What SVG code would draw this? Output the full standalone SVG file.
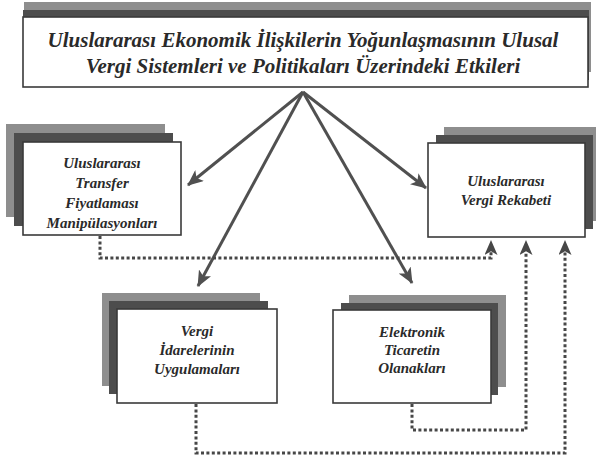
<svg xmlns="http://www.w3.org/2000/svg" width="596" height="465" viewBox="0 0 596 465">
<defs>
<marker id="ah" viewBox="0 0 16 14" refX="15" refY="7" markerWidth="16" markerHeight="14" markerUnits="userSpaceOnUse" orient="auto">
<path d="M0,0 L16,7 L0,14 L4,7 Z" fill="#505050"/>
</marker>
<marker id="ahd" viewBox="0 0 16 14" refX="15" refY="7" markerWidth="15" markerHeight="13" markerUnits="userSpaceOnUse" orient="auto">
<path d="M0,0 L16,7 L0,14 L4,7 Z" fill="#474747"/>
</marker>
</defs>
<rect width="596" height="465" fill="#fff"/>

<g id="title">
<rect fill="#8e8e8e" x="24" y="2" width="567" height="70"/>
<rect fill="#4d4d4d" x="23" y="10" width="566" height="70"/>
<rect fill="#fff" stroke="#3a3a3a" stroke-width="1.6" x="23" y="17" width="565" height="70"/>
<text x="303" y="47" style="font-family:'Liberation Serif',serif;font-size:21px;font-weight:bold;font-style:italic;fill:#2a2a2a;text-anchor:middle">Uluslararası Ekonomik İlişkilerin Yoğunlaşmasının Ulusal</text>
<text x="303" y="73" style="font-family:'Liberation Serif',serif;font-size:21px;font-weight:bold;font-style:italic;fill:#2a2a2a;text-anchor:middle">Vergi Sistemleri ve Politikaları Üzerindeki Etkileri</text>
</g>

<g id="transfer">
<rect fill="#8e8e8e" x="6" y="124" width="159" height="93"/>
<rect fill="#4d4d4d" x="14" y="133" width="159" height="93"/>
<rect fill="#fff" stroke="#3a3a3a" stroke-width="1.6" x="23" y="142" width="158" height="93"/>
<text x="102" y="168" style="font-family:'Liberation Serif',serif;font-size:15px;font-weight:bold;font-style:italic;fill:#2a2a2a;text-anchor:middle">Uluslararası</text>
<text x="102" y="188" style="font-family:'Liberation Serif',serif;font-size:15px;font-weight:bold;font-style:italic;fill:#2a2a2a;text-anchor:middle">Transfer</text>
<text x="102" y="208" style="font-family:'Liberation Serif',serif;font-size:15px;font-weight:bold;font-style:italic;fill:#2a2a2a;text-anchor:middle">Fiyatlaması</text>
<text x="102" y="228" style="font-family:'Liberation Serif',serif;font-size:15px;font-weight:bold;font-style:italic;fill:#2a2a2a;text-anchor:middle">Manipülasyonları</text>
</g>

<g id="rekabet">
<rect fill="#8e8e8e" x="444" y="127" width="157" height="94"/>
<rect fill="#4d4d4d" x="436" y="135" width="157" height="94"/>
<rect fill="#fff" stroke="#3a3a3a" stroke-width="1.6" x="428" y="143" width="157" height="94"/>
<text x="506" y="186" style="font-family:'Liberation Serif',serif;font-size:15px;font-weight:bold;font-style:italic;fill:#2a2a2a;text-anchor:middle">Uluslararası</text>
<text x="506" y="205" style="font-family:'Liberation Serif',serif;font-size:15px;font-weight:bold;font-style:italic;fill:#2a2a2a;text-anchor:middle">Vergi Rekabeti</text>
</g>

<g id="idare">
<rect fill="#8e8e8e" x="102" y="293" width="158" height="93"/>
<rect fill="#4d4d4d" x="109" y="301" width="159" height="93"/>
<rect fill="#fff" stroke="#3a3a3a" stroke-width="1.6" x="117" y="309" width="160" height="94"/>
<text x="197" y="336" style="font-family:'Liberation Serif',serif;font-size:15px;font-weight:bold;font-style:italic;fill:#2a2a2a;text-anchor:middle">Vergi</text>
<text x="197" y="355" style="font-family:'Liberation Serif',serif;font-size:15px;font-weight:bold;font-style:italic;fill:#2a2a2a;text-anchor:middle">İdarelerinin</text>
<text x="197" y="374" style="font-family:'Liberation Serif',serif;font-size:15px;font-weight:bold;font-style:italic;fill:#2a2a2a;text-anchor:middle">Uygulamaları</text>
</g>

<g id="eticaret">
<rect fill="#8e8e8e" x="349" y="295" width="157" height="92"/>
<rect fill="#4d4d4d" x="341" y="303" width="157" height="92"/>
<rect fill="#fff" stroke="#3a3a3a" stroke-width="1.6" x="333" y="310" width="158" height="93"/>
<text x="412" y="337" style="font-family:'Liberation Serif',serif;font-size:15px;font-weight:bold;font-style:italic;fill:#2a2a2a;text-anchor:middle">Elektronik</text>
<text x="412" y="355" style="font-family:'Liberation Serif',serif;font-size:15px;font-weight:bold;font-style:italic;fill:#2a2a2a;text-anchor:middle">Ticaretin</text>
<text x="412" y="373" style="font-family:'Liberation Serif',serif;font-size:15px;font-weight:bold;font-style:italic;fill:#2a2a2a;text-anchor:middle">Olanakları</text>
</g>

<g id="connectors" fill="none">
<g stroke="#505050" stroke-width="3" marker-end="url(#ah)">
<path d="M303,92 L188,185"/>
<path d="M303,92 L198,286"/>
<path d="M303,92 L412,283"/>
<path d="M303,92 L426,188"/>
</g>
<g stroke="#474747" stroke-width="3" stroke-dasharray="3 2.4">
<path d="M100,236 V258 H491 V252"/>
<path d="M196,404 V453 H565 V252"/>
<path d="M412,404 V430 H526 V252"/>
</g>
<path d="M491,256 V241" stroke="none" marker-end="url(#ahd)"/>
<path d="M526,256 V241" stroke="none" marker-end="url(#ahd)"/>
<path d="M565,256 V241" stroke="none" marker-end="url(#ahd)"/>
</g>
</svg>
